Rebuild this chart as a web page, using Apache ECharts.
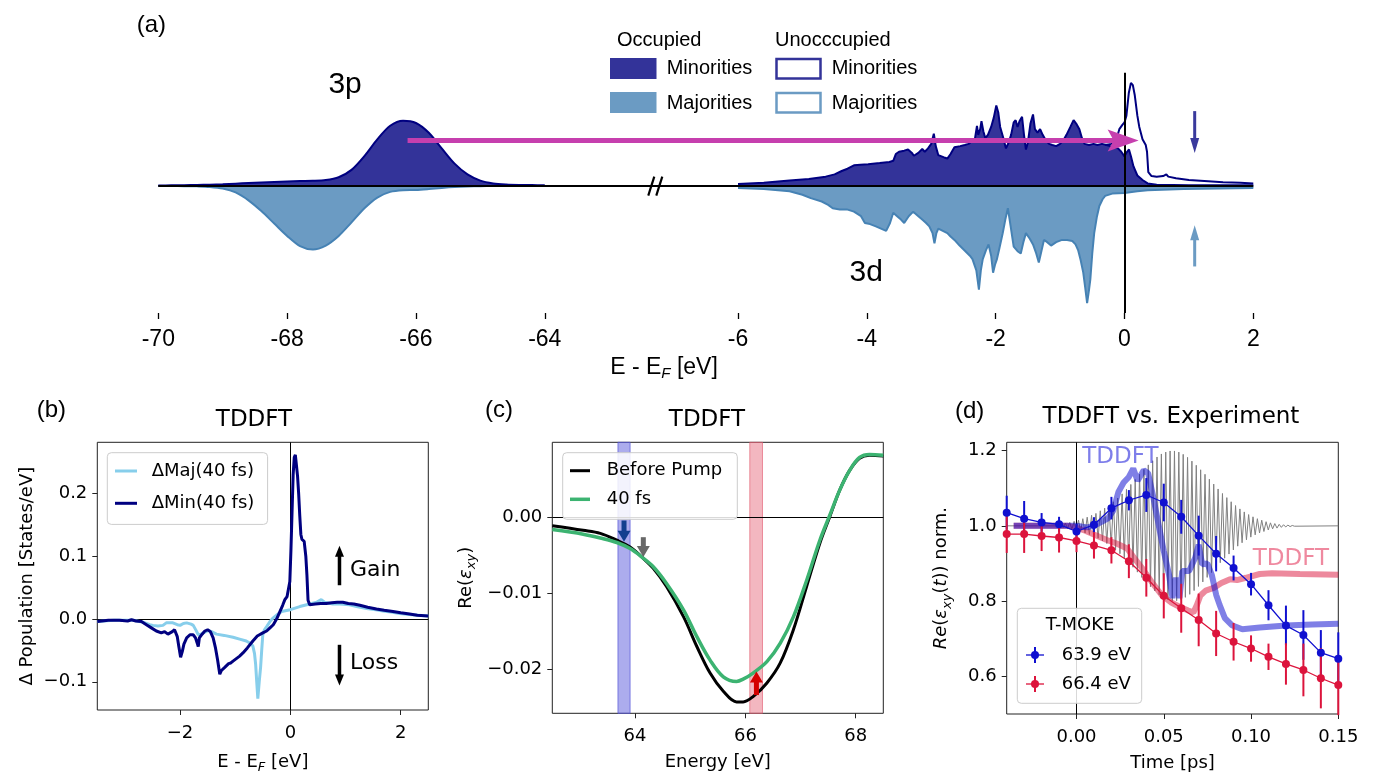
<!DOCTYPE html>
<html>
<head>
<meta charset="utf-8">
<script src="https://cdn.jsdelivr.net/npm/echarts@6/dist/echarts.min.js"></script>
<style>
  html, body { margin: 0; padding: 0; background: #fff; }
  #chart { width: 1375px; height: 775px; }
</style>
</head>
<body>
<div id="chart"></div>
<script>
// ---------------- (a) spin-resolved density of states ----------------
// 3p semicore region, sampled every 0.2 eV
const p3Energy = [-70.0,-69.8,-69.6,-69.4,-69.2,-69.0,-68.8,-68.6,-68.4,-68.2,-68.0,-67.8,-67.6,-67.4,-67.2,-67.0,-66.8,-66.6,-66.4,-66.2,-66.0,-65.8,-65.6,-65.4,-65.2,-65.0,-64.8,-64.6,-64.4,-64.2,-64.0];
const p3Minority = [0.002,0.003,0.004,0.006,0.009,0.013,0.018,0.023,0.028,0.033,0.038,0.041,0.043,0.050,0.075,0.140,0.262,0.410,0.530,0.575,0.555,0.468,0.330,0.195,0.100,0.045,0.020,0.010,0.006,0.005,0.004];
const p3Majority = [-0.002,-0.003,-0.004,-0.006,-0.011,-0.025,-0.060,-0.130,-0.225,-0.335,-0.445,-0.535,-0.565,-0.530,-0.445,-0.325,-0.200,-0.105,-0.055,-0.040,-0.038,-0.030,-0.020,-0.012,-0.007,-0.004,-0.003,-0.003,-0.003,-0.003,-0.003];

// 3d valence region: [E - EF, DOS]
const d3MinorityOccupied = [[-6.0,0.015],[-5.6,0.025],[-5.2,0.045],[-4.9,0.06],[-4.64,0.08],[-4.5,0.1],[-4.39,0.13],[-4.3,0.15],[-4.2,0.18],[-4.1,0.185],[-3.98,0.19],[-3.8,0.2],[-3.65,0.21],[-3.59,0.22],[-3.55,0.28],[-3.5,0.30],[-3.42,0.31],[-3.36,0.32],[-3.3,0.29],[-3.27,0.265],[-3.2,0.29],[-3.14,0.325],[-3.1,0.3],[-3.05,0.33],[-3.0,0.37],[-2.96,0.46],[-2.93,0.35],[-2.89,0.27],[-2.8,0.25],[-2.75,0.24],[-2.7,0.28],[-2.64,0.34],[-2.55,0.35],[-2.48,0.36],[-2.42,0.37],[-2.36,0.4],[-2.32,0.42],[-2.29,0.53],[-2.27,0.45],[-2.24,0.5],[-2.22,0.57],[-2.19,0.48],[-2.16,0.42],[-2.12,0.45],[-2.07,0.52],[-2.03,0.6],[-1.99,0.71],[-1.96,0.65],[-1.93,0.52],[-1.88,0.42],[-1.84,0.33],[-1.8,0.38],[-1.76,0.45],[-1.72,0.56],[-1.69,0.58],[-1.66,0.52],[-1.63,0.57],[-1.59,0.61],[-1.56,0.45],[-1.53,0.32],[-1.5,0.38],[-1.46,0.55],[-1.42,0.63],[-1.39,0.5],[-1.35,0.47],[-1.31,0.5],[-1.27,0.45],[-1.22,0.4],[-1.17,0.37],[-1.12,0.36],[-1.06,0.35],[-1.0,0.37],[-0.95,0.4],[-0.9,0.45],[-0.84,0.52],[-0.79,0.58],[-0.75,0.55],[-0.7,0.5],[-0.66,0.42],[-0.62,0.37],[-0.55,0.36],[-0.48,0.37],[-0.42,0.36],[-0.35,0.37],[-0.28,0.36],[-0.22,0.35],[-0.16,0.34],[-0.1,0.33],[-0.05,0.3],[0.0,0.26],[0.04,0.3],[0.07,0.32],[0.1,0.26],[0.14,0.17],[0.2,0.09],[0.28,0.05],[0.36,0.02],[0.5,0.008],[1.0,0.004],[2.0,0.003]];
const d3MinorityTotal = [[-0.3,0.36],[-0.2,0.37],[-0.12,0.42],[-0.08,0.5],[-0.03,0.54],[0.0,0.56],[0.03,0.62],[0.067,0.82],[0.1,0.91],[0.13,0.89],[0.16,0.8],[0.2,0.62],[0.23,0.52],[0.28,0.41],[0.33,0.36],[0.35,0.3],[0.37,0.12],[0.42,0.085],[0.5,0.08],[0.6,0.085],[0.65,0.1],[0.68,0.08],[0.8,0.065],[1.0,0.05],[1.3,0.04],[1.53,0.03],[1.8,0.025],[2.0,0.02]];
const d3Majority = [[-6.0,-0.02],[-5.6,-0.03],[-5.2,-0.05],[-5.0,-0.08],[-4.87,-0.11],[-4.7,-0.14],[-4.6,-0.17],[-4.53,-0.2],[-4.42,-0.21],[-4.31,-0.21],[-4.2,-0.23],[-4.09,-0.27],[-4.03,-0.33],[-3.95,-0.34],[-3.86,-0.36],[-3.78,-0.38],[-3.7,-0.4],[-3.64,-0.33],[-3.59,-0.24],[-3.53,-0.27],[-3.47,-0.3],[-3.42,-0.33],[-3.35,-0.27],[-3.28,-0.23],[-3.2,-0.27],[-3.14,-0.3],[-3.08,-0.33],[-3.03,-0.36],[-2.98,-0.42],[-2.95,-0.51],[-2.92,-0.42],[-2.89,-0.38],[-2.82,-0.4],[-2.75,-0.42],[-2.7,-0.45],[-2.64,-0.48],[-2.56,-0.53],[-2.47,-0.58],[-2.4,-0.62],[-2.36,-0.65],[-2.3,-0.75],[-2.26,-0.92],[-2.23,-0.75],[-2.2,-0.65],[-2.15,-0.57],[-2.11,-0.52],[-2.07,-0.62],[-2.04,-0.77],[-2.01,-0.7],[-1.98,-0.65],[-1.94,-0.55],[-1.89,-0.42],[-1.85,-0.3],[-1.81,-0.2],[-1.77,-0.35],[-1.72,-0.54],[-1.66,-0.58],[-1.61,-0.6],[-1.57,-0.5],[-1.53,-0.42],[-1.47,-0.47],[-1.42,-0.52],[-1.37,-0.6],[-1.33,-0.68],[-1.29,-0.58],[-1.25,-0.48],[-1.2,-0.5],[-1.14,-0.53],[-1.06,-0.5],[-0.97,-0.48],[-0.89,-0.48],[-0.81,-0.49],[-0.76,-0.52],[-0.72,-0.57],[-0.68,-0.66],[-0.64,-0.77],[-0.61,-0.9],[-0.58,-1.04],[-0.55,-0.92],[-0.53,-0.83],[-0.5,-0.6],[-0.47,-0.42],[-0.43,-0.28],[-0.39,-0.18],[-0.34,-0.12],[-0.3,-0.09],[-0.19,-0.07],[0.0,-0.065],[0.2,-0.05],[0.36,-0.04],[0.92,-0.03],[2.0,-0.02]];
const axisATicks = [-70,-68,-66,-64,-6,-4,-2,0,2];

// broken energy axis: both segments share one linear scale, the gap is 3 units wide
const toU = E => (E < -30 ? E + 70 : E + 15);
const fromU = u => Math.round(u < 7.5 ? u - 70 : u - 15);
const breakU = 7.7;

// ---------------- (b) population change ----------------
const deltaMaj = [[-3.5,-0.004],[-3.2,-0.002],[-2.85,-0.002],[-2.67,-0.005],[-2.55,-0.009],[-2.49,-0.01],[-2.4,-0.011],[-2.31,-0.01],[-2.25,-0.006],[-2.13,-0.006],[-2.05,-0.009],[-2.0,-0.01],[-1.94,-0.007],[-1.88,-0.006],[-1.8,-0.008],[-1.76,-0.01],[-1.71,-0.018],[-1.67,-0.025],[-1.62,-0.024],[-1.58,-0.022],[-1.53,-0.02],[-1.49,-0.018],[-1.43,-0.02],[-1.34,-0.024],[-1.2,-0.026],[-1.04,-0.029],[-0.92,-0.032],[-0.8,-0.035],[-0.72,-0.039],[-0.68,-0.043],[-0.65,-0.055],[-0.63,-0.072],[-0.61,-0.1],[-0.59,-0.127],[-0.565,-0.1],[-0.54,-0.077],[-0.52,-0.05],[-0.5,-0.025],[-0.47,-0.017],[-0.43,-0.012],[-0.37,-0.004],[-0.31,0.002],[-0.24,0.007],[-0.16,0.012],[0.0,0.015],[0.17,0.02],[0.35,0.024],[0.48,0.027],[0.56,0.031],[0.62,0.027],[0.77,0.024],[0.9,0.024],[1.07,0.023],[1.2,0.02],[1.38,0.017],[1.55,0.015],[1.68,0.013],[1.85,0.011],[1.98,0.009],[2.2,0.007],[2.5,0.005]];
const deltaMin = [[-3.5,-0.004],[-3.3,-0.002],[-3.1,-0.002],[-2.95,-0.003],[-2.88,-0.001],[-2.8,-0.003],[-2.7,-0.004],[-2.61,-0.009],[-2.52,-0.014],[-2.43,-0.019],[-2.34,-0.022],[-2.28,-0.02],[-2.22,-0.024],[-2.19,-0.025],[-2.14,-0.02],[-2.1,-0.017],[-2.05,-0.028],[-2.02,-0.045],[-1.99,-0.061],[-1.96,-0.052],[-1.93,-0.04],[-1.88,-0.03],[-1.82,-0.025],[-1.76,-0.025],[-1.72,-0.03],[-1.69,-0.038],[-1.67,-0.044],[-1.65,-0.03],[-1.6,-0.024],[-1.55,-0.019],[-1.5,-0.017],[-1.45,-0.02],[-1.4,-0.03],[-1.36,-0.045],[-1.32,-0.065],[-1.28,-0.088],[-1.25,-0.082],[-1.22,-0.084],[-1.19,-0.077],[-1.16,-0.074],[-1.12,-0.071],[-1.08,-0.07],[-1.04,-0.067],[-0.98,-0.063],[-0.92,-0.059],[-0.86,-0.054],[-0.78,-0.046],[-0.68,-0.035],[-0.6,-0.027],[-0.56,-0.025],[-0.5,-0.022],[-0.43,-0.019],[-0.37,-0.014],[-0.31,-0.009],[-0.25,0.0],[-0.19,0.012],[-0.14,0.022],[-0.1,0.031],[-0.06,0.036],[-0.03,0.039],[-0.01,0.06],[0.01,0.11],[0.03,0.17],[0.05,0.23],[0.07,0.258],[0.09,0.262],[0.11,0.245],[0.13,0.228],[0.15,0.2],[0.17,0.165],[0.19,0.135],[0.21,0.127],[0.25,0.124],[0.28,0.1],[0.3,0.07],[0.32,0.03],[0.35,0.023],[0.45,0.024],[0.55,0.025],[0.65,0.025],[0.75,0.026],[0.85,0.027],[0.95,0.027],[1.05,0.025],[1.15,0.024],[1.26,0.022],[1.4,0.019],[1.56,0.016],[1.7,0.014],[1.86,0.012],[2.0,0.01],[2.16,0.008],[2.3,0.006],[2.5,0.005]];

// ---------------- (c) off-diagonal dielectric function ----------------
const cEnergy = [62.5,63.06,63.37,63.67,63.91,64.12,64.33,64.57,64.88,65.12,65.36,65.6,65.84,65.96,66.14,66.39,66.63,66.87,67.11,67.35,67.53,67.71,67.89,68.07,68.25,68.5];
const beforePump = [-0.0011,-0.0017,-0.0021,-0.003,-0.0039,-0.0052,-0.0067,-0.0091,-0.0131,-0.017,-0.0205,-0.0229,-0.0243,-0.0243,-0.0236,-0.0218,-0.0192,-0.0148,-0.0091,-0.0034,0.0001,0.0036,0.0062,0.0078,0.0082,0.0081];
const after40fs = [-0.0016,-0.0022,-0.0027,-0.0033,-0.0041,-0.0052,-0.0065,-0.0087,-0.0122,-0.0157,-0.0188,-0.021,-0.0216,-0.0213,-0.0205,-0.019,-0.0166,-0.0131,-0.0083,-0.003,0.0003,0.0036,0.0062,0.0079,0.0083,0.0082];
const probeBands = [[63.69,63.91],[66.08,66.31]];

// ---------------- (d) time traces ----------------
const tExp = [-0.04,-0.03,-0.02,-0.01,0,0.01,0.02,0.03,0.04,0.05,0.06,0.07,0.08,0.09,0.10,0.11,0.12,0.13,0.14,0.15];
const exp639 = [1.035,1.019,1.009,1.004,0.985,1.003,1.047,1.068,1.082,1.062,1.024,0.974,0.926,0.888,0.845,0.789,0.735,0.710,0.663,0.647];
const err639 = [0.045,0.047,0.025,0.02,0.02,0.02,0.03,0.027,0.045,0.05,0.045,0.053,0.047,0.033,0.03,0.04,0.053,0.066,0.06,0.07];
const exp664 = [0.978,0.978,0.973,0.969,0.960,0.948,0.935,0.906,0.862,0.814,0.781,0.750,0.714,0.692,0.674,0.652,0.633,0.617,0.595,0.577];
const err664 = [0.05,0.05,0.04,0.04,0.03,0.035,0.035,0.045,0.05,0.06,0.065,0.07,0.06,0.05,0.035,0.035,0.055,0.07,0.08,0.08];
const tddft639 = [[-0.036,1.0],[0.0,1.0],[0.006,0.996],[0.01,1.0],[0.014,1.01],[0.018,1.02],[0.021,1.04],[0.024,1.09],[0.027,1.115],[0.030,1.13],[0.0325,1.152],[0.035,1.12],[0.0385,1.148],[0.041,1.14],[0.044,1.076],[0.047,1.004],[0.050,0.933],[0.053,0.87],[0.055,0.808],[0.057,0.862],[0.059,0.808],[0.0606,0.88],[0.0645,0.88],[0.068,0.915],[0.070,0.95],[0.072,0.898],[0.075,0.9],[0.0775,0.87],[0.080,0.817],[0.082,0.79],[0.085,0.755],[0.089,0.736],[0.095,0.725],[0.105,0.73],[0.12,0.735],[0.135,0.738],[0.15,0.74]];
const tddft664 = [[-0.036,1.0],[-0.005,1.0],[0.0,0.995],[0.005,0.987],[0.011,0.975],[0.017,0.963],[0.023,0.953],[0.029,0.94],[0.033,0.915],[0.038,0.885],[0.044,0.845],[0.049,0.815],[0.054,0.797],[0.059,0.785],[0.064,0.775],[0.067,0.77],[0.069,0.79],[0.071,0.815],[0.074,0.828],[0.079,0.836],[0.083,0.848],[0.088,0.858],[0.092,0.856],[0.097,0.862],[0.105,0.872],[0.112,0.874],[0.128,0.872],[0.15,0.87]];
// probe pulse sketch: one amplitude per optical cycle
const probeStart = -0.012, probePeriod = 0.0025;
const probeAmp = [0.003,0.005,0.007,0.009,0.012,0.015,0.019,0.023,0.028,0.033,0.040,0.047,0.055,0.064,0.074,0.085,0.097,0.110,0.123,0.137,0.150,0.162,0.173,0.183,0.191,0.196,0.199,0.199,0.196,0.190,0.182,0.172,0.161,0.149,0.137,0.124,0.111,0.098,0.086,0.075,0.064,0.054,0.045,0.037,0.030,0.024,0.019,0.015,0.011,0.008,0.006,0.004,0.003,0.002,0.001];

// ---------------- styling helpers ----------------
const HELV = "'Liberation Sans', Arial, sans-serif";
const MPL = "'DejaVu Sans', sans-serif";
const NAVY = '#000080', MIN_FILL = '#333399', STEEL = '#4682b4', MAJ_FILL = '#6b9bc3';

const signed = d => v => (v < 0 ? '\u2212' : '') + Math.abs(v).toFixed(d);
const richStyles = {
  i: { fontStyle: 'italic', fontSize: 18, fontFamily: MPL, color: '#000' },
  s: { fontStyle: 'italic', fontSize: 13, fontFamily: MPL, color: '#000', padding: [11, 0, 0, 0] }
};

function frameXAxis(g, min, max, ticks, dec, name, gap) {
  return {
    type: 'value', gridIndex: g, min, max,
    axisLine: { show: false, onZero: false }, splitLine: { show: false },
    axisTick: { show: true, length: 5, lineStyle: { color: '#222', width: 1 }, customValues: ticks },
    axisLabel: { customValues: ticks, formatter: signed(dec), fontSize: 18, fontFamily: MPL, color: '#000', margin: 14 },
    name, nameLocation: 'middle', nameGap: gap,
    nameTextStyle: { fontSize: 18, fontFamily: MPL, color: '#000', rich: richStyles }
  };
}
function frameYAxis(g, min, max, ticks, dec, name, gap) {
  return {
    type: 'value', gridIndex: g, min, max,
    axisLine: { show: false, onZero: false }, splitLine: { show: false },
    axisTick: { show: true, length: 5, lineStyle: { color: '#222', width: 1 }, customValues: ticks },
    axisLabel: { customValues: ticks, formatter: signed(dec), fontSize: 18, fontFamily: MPL, color: '#000', margin: 10 },
    name, nameLocation: 'middle', nameRotate: 90, nameGap: gap,
    nameTextStyle: { fontSize: 18, fontFamily: MPL, color: '#000', rich: richStyles }
  };
}

function arrowSeries(g, arrows, z) {
  return {
    type: 'custom', xAxisIndex: g, yAxisIndex: g, silent: true, clip: false, z: z || 20,
    data: arrows.map(a => [a.from[0], a.from[1], a.to[0], a.to[1]]),
    renderItem: (params, api) => {
      const a = arrows[params.dataIndex];
      const p = api.coord([api.value(0), api.value(1)]);
      const q = api.coord([api.value(2), api.value(3)]);
      const dx = q[0] - p[0], dy = q[1] - p[1], L = Math.hypot(dx, dy);
      const ux = dx / L, uy = dy / L, nx = -uy, ny = ux;
      const bx = q[0] - ux * a.head, by = q[1] - uy * a.head;
      const notch = a.notch || 0;
      const pts = [[q[0], q[1]], [bx + nx * a.half, by + ny * a.half], [bx + ux * notch, by + uy * notch], [bx - nx * a.half, by - ny * a.half]];
      return {
        type: 'group', children: [
          { type: 'line', shape: { x1: p[0], y1: p[1], x2: bx + ux * (notch + 1), y2: by + uy * (notch + 1) }, style: { stroke: a.color, lineWidth: a.width } },
          { type: 'polygon', shape: { points: pts }, style: { fill: a.color } }
        ]
      };
    }
  };
}

function textSeries(g, items) {
  return {
    type: 'custom', xAxisIndex: g, yAxisIndex: g, silent: true, clip: false, z: 30,
    data: items.map(it => [it.at[0], it.at[1]]),
    renderItem: (params, api) => {
      const it = items[params.dataIndex];
      const c = api.coord([api.value(0), api.value(1)]);
      return { type: 'text', x: c[0], y: c[1], style: { text: it.text, fill: it.color || '#000', font: it.font, align: it.align || 'center', verticalAlign: 'middle' } };
    }
  };
}

function errorBarSeries(g, xs, ys, errs, color) {
  return {
    type: 'custom', xAxisIndex: g, yAxisIndex: g, silent: true, clip: false, z: 12,
    data: xs.map((x, i) => [x, ys[i] - errs[i], ys[i] + errs[i]]),
    renderItem: (params, api) => {
      const lo = api.coord([api.value(0), api.value(1)]);
      const hi = api.coord([api.value(0), api.value(2)]);
      return { type: 'line', shape: { x1: lo[0], y1: lo[1], x2: hi[0], y2: hi[1] }, style: { stroke: color, lineWidth: 2 } };
    }
  };
}

const probeLine = [[-0.04, 1], [probeStart, 1]];
probeAmp.forEach((a, k) => {
  const t0 = probeStart + k * probePeriod;
  probeLine.push([t0 + probePeriod / 4, 1 + a], [t0 + 3 * probePeriod / 4, 1 - a]);
});
probeLine.push([probeStart + probeAmp.length * probePeriod, 1], [0.15, 1]);

// ---------------- chart ----------------
const chart = echarts.init(document.getElementById('chart'), null, { renderer: 'canvas' });
const aTicks = axisATicks.map(toU);

const option = {
  animation: false,
  backgroundColor: '#fff',
  grid: [
    { left: 158.3, top: 72.7, width: 1095, height: 240.3, show: false },
    { left: 97.3, top: 442.3, width: 331, height: 271, show: true, borderColor: '#222', borderWidth: 1, backgroundColor: 'transparent' },
    { left: 552.3, top: 442.3, width: 331, height: 271, show: true, borderColor: '#222', borderWidth: 1, backgroundColor: 'transparent' },
    { left: 1006.7, top: 442.3, width: 331.6, height: 271.7, show: true, borderColor: '#222', borderWidth: 1, backgroundColor: 'transparent' }
  ],
  xAxis: [
    {
      type: 'value', gridIndex: 0, min: 0, max: 17,
      axisLine: { show: false, onZero: false }, splitLine: { show: false },
      axisTick: { show: true, length: 6, lineStyle: { color: '#000', width: 1.3 }, customValues: aTicks },
      axisLabel: { customValues: aTicks, formatter: u => String(fromU(u)), fontSize: 23, fontFamily: HELV, color: '#000', margin: 15 }
    },
    frameXAxis(1, -3.5, 2.5, [-2, 0, 2], 0, 'E - E{s|F} [eV]', 40),
    frameXAxis(2, 62.5, 68.5, [64, 66, 68], 0, 'Energy [eV]', 40),
    frameXAxis(3, -0.04, 0.15, [0, 0.05, 0.10, 0.15], 2, 'Time [ps]', 40)
  ],
  yAxis: [
    { type: 'value', gridIndex: 0, min: -1.127, max: 1.0, show: false },
    frameYAxis(1, -0.145, 0.282, [-0.1, 0, 0.1, 0.2], 1, '\u0394 Population [States/eV]', 61),
    frameYAxis(2, -0.0258, 0.0099, [-0.02, -0.01, 0], 2, 'Re({i|\u03b5}{s|xy})', 74),
    frameYAxis(3, 0.50, 1.222, [0.6, 0.8, 1.0, 1.2], 1, '{i|Re}({i|\u03b5}{s|xy}({i|t})) norm.', 53)
  ],
  series: [
    // ----- (a) -----
    { type: 'line', xAxisIndex: 0, yAxisIndex: 0, symbol: 'none', smooth: 0.3, z: 3,
      data: p3Energy.map((E, i) => [toU(E), p3Majority[i]]),
      lineStyle: { color: STEEL, width: 2 }, areaStyle: { color: MAJ_FILL, opacity: 1 } },
    { type: 'line', xAxisIndex: 0, yAxisIndex: 0, symbol: 'none', smooth: 0.3, z: 4,
      data: p3Energy.map((E, i) => [toU(E), p3Minority[i]]),
      lineStyle: { color: NAVY, width: 2 }, areaStyle: { color: MIN_FILL, opacity: 1 } },
    { type: 'line', xAxisIndex: 0, yAxisIndex: 0, symbol: 'none', z: 3,
      data: d3Majority.map(p => [toU(p[0]), p[1]]),
      lineStyle: { color: STEEL, width: 2 }, areaStyle: { color: MAJ_FILL, opacity: 1 } },
    { type: 'line', xAxisIndex: 0, yAxisIndex: 0, symbol: 'none', z: 4,
      data: d3MinorityTotal.map(p => [toU(p[0]), p[1]]),
      lineStyle: { color: NAVY, width: 2 } },
    { type: 'line', xAxisIndex: 0, yAxisIndex: 0, symbol: 'none', z: 4,
      data: d3MinorityOccupied.map(p => [toU(p[0]), p[1]]),
      lineStyle: { color: NAVY, width: 2 }, areaStyle: { color: MIN_FILL, opacity: 1 } },
    { type: 'line', xAxisIndex: 0, yAxisIndex: 0, data: [], z: 10,
      markLine: { silent: true, symbol: 'none', label: { show: false },
        lineStyle: { color: '#000', width: 2, type: 'solid' },
        data: [{ yAxis: 0 }, { xAxis: toU(0) }] } },
    { type: 'custom', xAxisIndex: 0, yAxisIndex: 0, silent: true, clip: false, z: 11,
      data: [[breakU, 0]],
      renderItem: (params, api) => {
        const c = api.coord([api.value(0), api.value(1)]);
        return { type: 'group', children: [
          { type: 'line', shape: { x1: c[0] - 6, y1: c[1] + 10, x2: c[0], y2: c[1] - 9 }, style: { stroke: '#000', lineWidth: 2.2 } },
          { type: 'line', shape: { x1: c[0] + 2, y1: c[1] + 10, x2: c[0] + 8, y2: c[1] - 9 }, style: { stroke: '#000', lineWidth: 2.2 } }
        ] };
      } },
    arrowSeries(0, [
      { from: [toU(-66.13), 0.40], to: [toU(0.22), 0.40], color: '#c63fae', width: 5, head: 31, half: 11, notch: 6 },
      { from: [toU(1.09), 0.66], to: [toU(1.09), 0.29], color: '#3a3a9c', width: 3, head: 15, half: 4.5 },
      { from: [toU(1.09), -0.715], to: [toU(1.09), -0.35], color: '#6b9bc3', width: 3, head: 15, half: 4.5 }
    ]),
    textSeries(0, [
      { at: [toU(-67.1), 0.89], text: '3p', font: '30px ' + HELV },
      { at: [toU(-4.01), -0.77], text: '3d', font: '30px ' + HELV }
    ]),

    // ----- (b) -----
    { type: 'line', xAxisIndex: 1, yAxisIndex: 1, data: [], z: 1,
      markLine: { silent: true, symbol: 'none', label: { show: false },
        lineStyle: { color: '#000', width: 1, type: 'solid' },
        data: [{ yAxis: 0 }, { xAxis: 0 }] } },
    { name: '\u0394Maj(40 fs)', type: 'line', xAxisIndex: 1, yAxisIndex: 1, symbol: 'none', z: 5,
      data: deltaMaj, lineStyle: { color: '#87ceeb', width: 3 } },
    { name: '\u0394Min(40 fs)', type: 'line', xAxisIndex: 1, yAxisIndex: 1, symbol: 'none', z: 6,
      data: deltaMin, lineStyle: { color: NAVY, width: 3 } },
    arrowSeries(1, [
      { from: [0.89, 0.054], to: [0.89, 0.117], color: '#000', width: 3.5, head: 11, half: 4.5 },
      { from: [0.89, -0.041], to: [0.89, -0.106], color: '#000', width: 3.5, head: 11, half: 4.5 }
    ]),
    textSeries(1, [
      { at: [1.08, 0.078], text: 'Gain', font: '22px ' + MPL, align: 'left' },
      { at: [1.08, -0.070], text: 'Loss', font: '22px ' + MPL, align: 'left' }
    ]),

    // ----- (c) -----
    { type: 'line', xAxisIndex: 2, yAxisIndex: 2, data: [], z: 1,
      markArea: { silent: true, data: [
        [{ xAxis: probeBands[0][0], itemStyle: { color: 'rgba(90,90,220,0.5)', borderColor: 'rgba(90,90,220,0.7)', borderWidth: 1 } }, { xAxis: probeBands[0][1] }],
        [{ xAxis: probeBands[1][0], itemStyle: { color: 'rgba(228,95,115,0.45)', borderColor: 'rgba(228,95,115,0.65)', borderWidth: 1 } }, { xAxis: probeBands[1][1] }]
      ] },
      markLine: { silent: true, symbol: 'none', label: { show: false },
        lineStyle: { color: '#000', width: 1, type: 'solid' }, data: [{ yAxis: 0 }] } },
    { name: 'Before Pump', type: 'line', xAxisIndex: 2, yAxisIndex: 2, symbol: 'none', smooth: 0.35, z: 5,
      data: cEnergy.map((E, i) => [E, beforePump[i]]), lineStyle: { color: '#000', width: 3 } },
    { name: '40 fs', type: 'line', xAxisIndex: 2, yAxisIndex: 2, symbol: 'none', smooth: 0.35, z: 6,
      data: cEnergy.map((E, i) => [E, after40fs[i]]), lineStyle: { color: '#3cb371', width: 3.5 } },
    arrowSeries(2, [
      { from: [63.8, -0.0004], to: [63.8, -0.0032], color: '#123f8f', width: 5, head: 11, half: 6.5 },
      { from: [64.15, -0.0026], to: [64.15, -0.0052], color: '#686868', width: 5, head: 11, half: 6.5 },
      { from: [66.2, -0.0234], to: [66.2, -0.0203], color: '#d40000', width: 5, head: 11, half: 6.5 }
    ]),

    // ----- (d) -----
    { type: 'line', xAxisIndex: 3, yAxisIndex: 3, data: [], z: 1,
      markLine: { silent: true, symbol: 'none', label: { show: false },
        lineStyle: { color: '#000', width: 1, type: 'solid' }, data: [{ xAxis: 0 }] } },
    { type: 'line', xAxisIndex: 3, yAxisIndex: 3, symbol: 'none', z: 3,
      data: probeLine, lineStyle: { color: '#808080', width: 1 } },
    { type: 'line', xAxisIndex: 3, yAxisIndex: 3, symbol: 'none', z: 4,
      data: tddft664, lineStyle: { color: 'rgba(220,20,60,0.5)', width: 6 } },
    { type: 'line', xAxisIndex: 3, yAxisIndex: 3, symbol: 'none', z: 5,
      data: tddft639, lineStyle: { color: 'rgba(0,0,205,0.5)', width: 6 } },
    errorBarSeries(3, tExp, exp639, err639, '#1010d0'),
    errorBarSeries(3, tExp, exp664, err664, '#dc143c'),
    { name: '63.9 eV', type: 'line', xAxisIndex: 3, yAxisIndex: 3, symbol: 'circle', symbolSize: 8, z: 13,
      data: tExp.map((t, i) => [t, exp639[i]]),
      lineStyle: { color: '#1010d0', width: 1.3 }, itemStyle: { color: '#1010d0' } },
    { name: '66.4 eV', type: 'line', xAxisIndex: 3, yAxisIndex: 3, symbol: 'circle', symbolSize: 8, z: 13,
      data: tExp.map((t, i) => [t, exp664[i]]),
      lineStyle: { color: '#dc143c', width: 1.3 }, itemStyle: { color: '#dc143c' } },
    textSeries(3, [
      { at: [0.0033, 1.183], text: 'TDDFT', font: '23px ' + MPL, align: 'left', color: 'rgba(40,40,220,0.6)' },
      { at: [0.101, 0.913], text: 'TDDFT', font: '23px ' + MPL, align: 'left', color: 'rgba(225,40,80,0.55)' }
    ])
  ],
  graphic: [
    // panel letters
    { type: 'text', x: 136.7, y: 25, z: 100, style: { text: '(a)', font: '24px ' + HELV, fill: '#000', verticalAlign: 'middle' } },
    { type: 'text', x: 36.7, y: 410, z: 100, style: { text: '(b)', font: '24px ' + HELV, fill: '#000', verticalAlign: 'middle' } },
    { type: 'text', x: 485, y: 410, z: 100, style: { text: '(c)', font: '24px ' + HELV, fill: '#000', verticalAlign: 'middle' } },
    { type: 'text', x: 955, y: 411, z: 100, style: { text: '(d)', font: '24px ' + HELV, fill: '#000', verticalAlign: 'middle' } },
    // panel titles
    { type: 'text', x: 254, y: 420, z: 100, style: { text: 'TDDFT', font: '23px ' + MPL, fill: '#000', align: 'center', verticalAlign: 'middle' } },
    { type: 'text', x: 707, y: 420, z: 100, style: { text: 'TDDFT', font: '23px ' + MPL, fill: '#000', align: 'center', verticalAlign: 'middle' } },
    { type: 'text', x: 1171, y: 417, z: 100, style: { text: 'TDDFT vs. Experiment', font: '23px ' + MPL, fill: '#000', align: 'center', verticalAlign: 'middle' } },
    // (a) axis title
    { type: 'text', x: 664, y: 368, z: 100, style: { text: 'E - E{s|F} [eV]', font: '23px ' + HELV, fill: '#000', align: 'center', verticalAlign: 'middle',
      rich: { s: { fontSize: 15, fontStyle: 'italic', fontFamily: HELV, fill: '#000', padding: [12, 0, 0, 0] } } } },
    // (a) legend
    { type: 'text', x: 617, y: 40, z: 100, style: { text: 'Occupied', font: '20px ' + HELV, fill: '#000', verticalAlign: 'middle' } },
    { type: 'text', x: 775, y: 40, z: 100, style: { text: 'Unocccupied', font: '20px ' + HELV, fill: '#000', verticalAlign: 'middle' } },
    { type: 'rect', z: 100, shape: { x: 610, y: 58, width: 46.5, height: 21 }, style: { fill: MIN_FILL } },
    { type: 'rect', z: 100, shape: { x: 610, y: 92, width: 46.5, height: 21 }, style: { fill: MAJ_FILL } },
    { type: 'rect', z: 100, shape: { x: 776.5, y: 59, width: 44, height: 19.5 }, style: { fill: '#fff', stroke: MIN_FILL, lineWidth: 2.5 } },
    { type: 'rect', z: 100, shape: { x: 776.5, y: 93, width: 44, height: 19.5 }, style: { fill: '#fff', stroke: MAJ_FILL, lineWidth: 2.5 } },
    { type: 'text', x: 666.7, y: 68.5, z: 100, style: { text: 'Minorities', font: '20px ' + HELV, fill: '#000', verticalAlign: 'middle' } },
    { type: 'text', x: 666.7, y: 103, z: 100, style: { text: 'Majorities', font: '20px ' + HELV, fill: '#000', verticalAlign: 'middle' } },
    { type: 'text', x: 831.7, y: 68.5, z: 100, style: { text: 'Minorities', font: '20px ' + HELV, fill: '#000', verticalAlign: 'middle' } },
    { type: 'text', x: 831.7, y: 103, z: 100, style: { text: 'Majorities', font: '20px ' + HELV, fill: '#000', verticalAlign: 'middle' } },
    // (b) legend
    { type: 'rect', z: 100, shape: { x: 107.3, y: 452.7, width: 160.3, height: 71.7, r: 4 }, style: { fill: 'rgba(255,255,255,0.85)', stroke: '#cccccc', lineWidth: 1 } },
    { type: 'line', z: 101, shape: { x1: 115, y1: 471, x2: 137, y2: 471 }, style: { stroke: '#87ceeb', lineWidth: 3 } },
    { type: 'line', z: 101, shape: { x1: 115, y1: 503.3, x2: 137, y2: 503.3 }, style: { stroke: NAVY, lineWidth: 3 } },
    { type: 'text', x: 151.7, y: 471, z: 101, style: { text: '\u0394Maj(40 fs)', font: '18px ' + MPL, fill: '#000', verticalAlign: 'middle' } },
    { type: 'text', x: 151.7, y: 503.3, z: 101, style: { text: '\u0394Min(40 fs)', font: '18px ' + MPL, fill: '#000', verticalAlign: 'middle' } },
    // (c) legend
    { type: 'rect', z: 100, shape: { x: 562.7, y: 452.7, width: 174.6, height: 66.6, r: 4 }, style: { fill: 'rgba(255,255,255,0.85)', stroke: '#cccccc', lineWidth: 1 } },
    { type: 'line', z: 101, shape: { x1: 570, y1: 470.7, x2: 590, y2: 470.7 }, style: { stroke: '#000', lineWidth: 3 } },
    { type: 'line', z: 101, shape: { x1: 570, y1: 499.3, x2: 590, y2: 499.3 }, style: { stroke: '#3cb371', lineWidth: 3.5 } },
    { type: 'text', x: 606.7, y: 470.7, z: 101, style: { text: 'Before Pump', font: '18px ' + MPL, fill: '#000', verticalAlign: 'middle' } },
    { type: 'text', x: 606.7, y: 499.3, z: 101, style: { text: '40 fs', font: '18px ' + MPL, fill: '#000', verticalAlign: 'middle' } },
    // (d) legend
    { type: 'rect', z: 100, shape: { x: 1017.3, y: 608.3, width: 124.4, height: 95, r: 4 }, style: { fill: 'rgba(255,255,255,0.85)', stroke: '#cccccc', lineWidth: 1 } },
    { type: 'text', x: 1080, y: 625, z: 101, style: { text: 'T-MOKE', font: '18px ' + MPL, fill: '#000', align: 'center', verticalAlign: 'middle' } },
    { type: 'line', z: 101, shape: { x1: 1026, y1: 655, x2: 1044, y2: 655 }, style: { stroke: '#1010d0', lineWidth: 1.3 } },
    { type: 'line', z: 101, shape: { x1: 1035, y1: 647, x2: 1035, y2: 663 }, style: { stroke: '#1010d0', lineWidth: 2 } },
    { type: 'circle', z: 102, shape: { cx: 1035, cy: 655, r: 4 }, style: { fill: '#1010d0' } },
    { type: 'line', z: 101, shape: { x1: 1026, y1: 684, x2: 1044, y2: 684 }, style: { stroke: '#dc143c', lineWidth: 1.3 } },
    { type: 'line', z: 101, shape: { x1: 1035, y1: 676, x2: 1035, y2: 692 }, style: { stroke: '#dc143c', lineWidth: 2 } },
    { type: 'circle', z: 102, shape: { cx: 1035, cy: 684, r: 4 }, style: { fill: '#dc143c' } },
    { type: 'text', x: 1061.7, y: 655, z: 101, style: { text: '63.9 eV', font: '18px ' + MPL, fill: '#000', verticalAlign: 'middle' } },
    { type: 'text', x: 1061.7, y: 684, z: 101, style: { text: '66.4 eV', font: '18px ' + MPL, fill: '#000', verticalAlign: 'middle' } }
  ]
};
chart.setOption(option);
</script>
</body>
</html>
